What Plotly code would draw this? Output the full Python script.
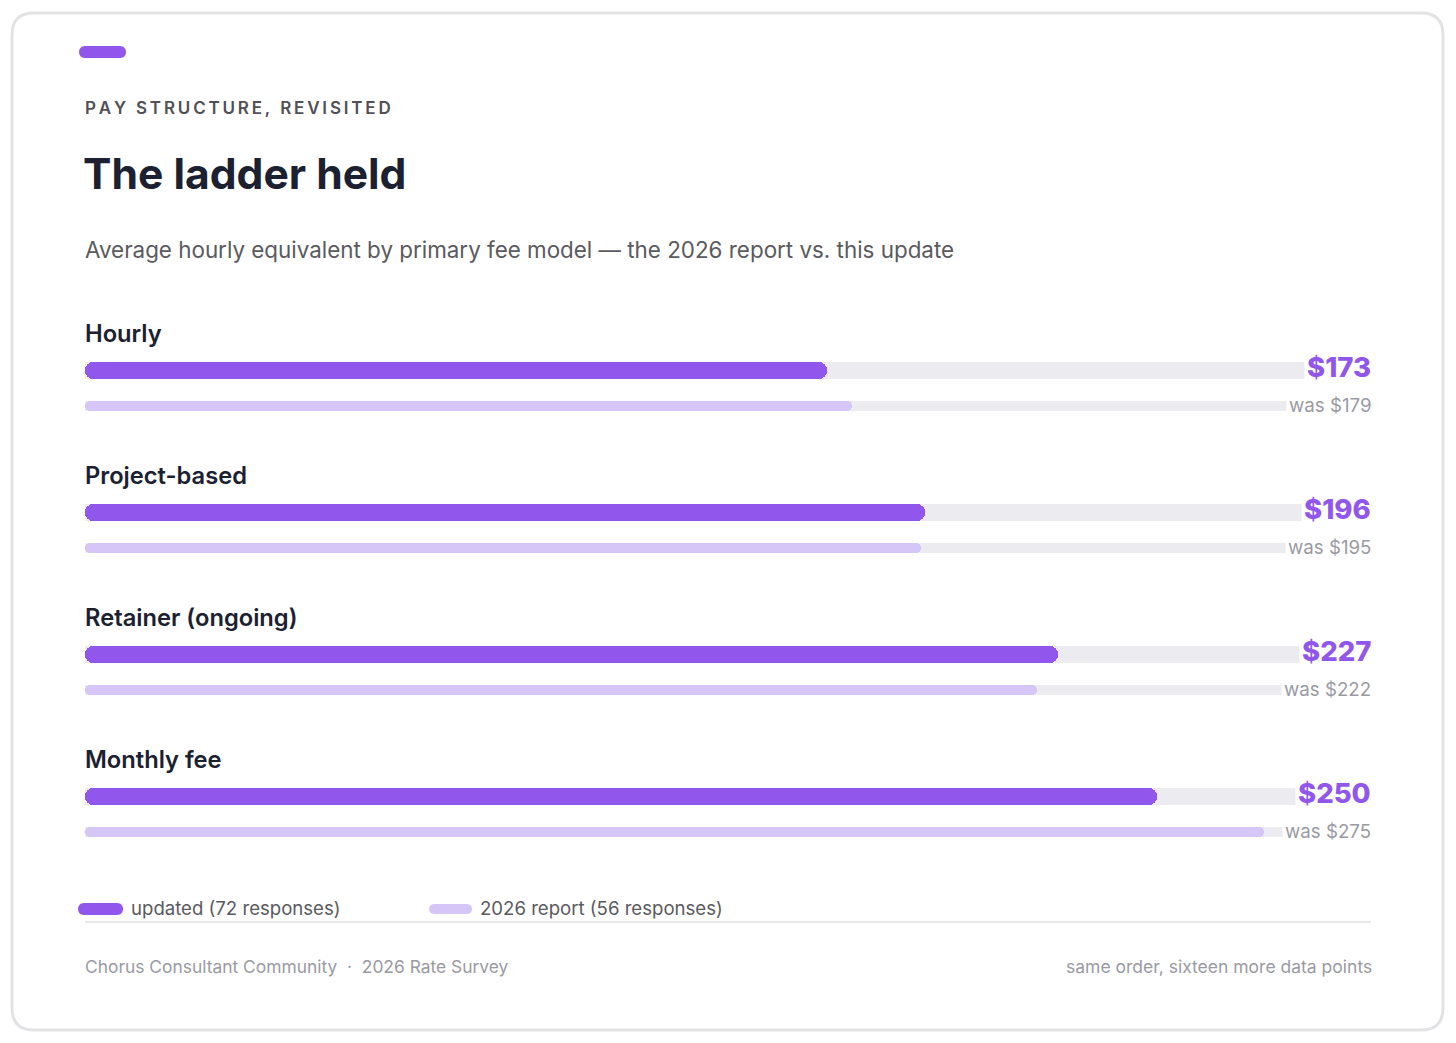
import plotly.graph_objects as go

# ---------------- data ----------------
categories = ["Hourly", "Project-based", "Retainer (ongoing)", "Monthly fee"]
updated = [173, 196, 227, 250]
report_2026 = [179, 195, 222, 275]
axis_max = 300
legend_labels = ["updated (72 responses)", "2026 report (56 responses)"]

eyebrow = "PAY STRUCTURE, REVISITED"
title = "The ladder held"
subtitle = "Average hourly equivalent by primary fee model \u2014 the 2026 report vs. this update"
footer_left = "Chorus Consultant Community  \u00b7  2026 Rate Survey"
footer_right = "same order, sixteen more data points"

# ---------------- style ----------------
OFF = 8                      # page body margin
W, H = 1456 - OFF, 1043 - OFF
PURPLE = "#9157ed"
LIGHT = "#d6c6f7"
TRACK = "#ececf0"
DARK = "#1b2130"
GREY = "#5a5a60"
LIGHTGREY = "#9a9aa2"
FONT = "Inter, Roboto, sans-serif"
TXT_PAD = 2                  # annotation inner padding compensation


def sx(v):  # screen x -> figure pixel
    return v - OFF


def sy(v):  # screen y -> figure pixel (y axis is in pixels)
    return v - OFF


def px(v):  # screen x -> paper fraction
    return sx(v) / W


X0, X1 = 85, 1371
GROUP_Y0 = 333
GROUP_STEP = 142
THICK_OFF = 37
THIN_OFF = 73
THICK_W = 17
THIN_W = 10

label_y = [sy(GROUP_Y0 + GROUP_STEP * i) for i in range(len(categories))]
thick_y = [y + THICK_OFF for y in label_y]
thin_y = [y + THIN_OFF for y in label_y]

fig = go.Figure()


def rounded_bar(values, ys, width, color):
    # right half (rounded at value end) + left half (rounded at zero end)
    fig.add_trace(go.Bar(
        x=[v * 0.55 for v in values], base=[v * 0.45 for v in values], y=ys,
        orientation="h", width=width, marker=dict(color=color, cornerradius="50%", line=dict(width=0)),
        hoverinfo="skip", showlegend=False))
    fig.add_trace(go.Bar(
        x=[-v * 0.55 for v in values], base=[v * 0.55 for v in values], y=ys,
        orientation="h", width=width, marker=dict(color=color, cornerradius="50%", line=dict(width=0)),
        hoverinfo="skip", showlegend=False))


# tracks
fig.add_trace(go.Bar(x=[axis_max] * len(categories), y=thick_y, orientation="h", width=THICK_W,
                     marker=dict(color=TRACK, line=dict(width=0)), hoverinfo="skip", showlegend=False))
fig.add_trace(go.Bar(x=[axis_max] * len(categories), y=thin_y, orientation="h", width=THIN_W,
                     marker=dict(color=TRACK, line=dict(width=0)), hoverinfo="skip", showlegend=False))

rounded_bar(updated, thick_y, THICK_W, PURPLE)
rounded_bar(report_2026, thin_y, THIN_W, LIGHT)

annotations = []
shapes = []


def pill(x0, x1, yc, h, color):
    yc = sy(yc)
    r = h / 2
    k = 4 / 3 * r
    path = (f"M {px(x0 + r)},{yc - r} L {px(x1 - r)},{yc - r} "
            f"C {px(x1 - r + k)},{yc - r} {px(x1 - r + k)},{yc + r} {px(x1 - r)},{yc + r} "
            f"L {px(x0 + r)},{yc + r} "
            f"C {px(x0 + r - k)},{yc + r} {px(x0 + r - k)},{yc - r} {px(x0 + r)},{yc - r} Z")
    return dict(type="path", xref="paper", yref="y", path=path, fillcolor=color,
                line=dict(width=0), layer="above")


# card
cr = 22
cx0, cx1, cy0, cy1 = 12, 1443, sy(13), sy(1030)
card_path = (f"M {px(cx0 + cr)},{cy0} L {px(cx1 - cr)},{cy0} Q {px(cx1)},{cy0} {px(cx1)},{cy0 + cr} "
             f"L {px(cx1)},{cy1 - cr} Q {px(cx1)},{cy1} {px(cx1 - cr)},{cy1} "
             f"L {px(cx0 + cr)},{cy1} Q {px(cx0)},{cy1} {px(cx0)},{cy1 - cr} "
             f"L {px(cx0)},{cy0 + cr} Q {px(cx0)},{cy0} {px(cx0 + cr)},{cy0} Z")
shapes.append(dict(type="path", xref="paper", yref="y", path=card_path, fillcolor="white",
                   line=dict(color="#e3e3e6", width=3), layer="below"))

# accent pill
shapes.append(pill(79, 126, 52, 12, PURPLE))

# separator line
shapes.append(dict(type="line", xref="paper", yref="y", x0=px(X0), x1=px(X1), y0=sy(922), y1=sy(922),
                   line=dict(color="#e2e2e6", width=1.5), layer="above"))

# legend pills
shapes.append(pill(78, 123, 909, 12, PURPLE))
shapes.append(pill(429, 472, 909, 10, LIGHT))

spaced_eyebrow = "\u2009".join(list(eyebrow))


def ann(text, x, y, size, color, anchor="left", weight=None):
    f = dict(family=FONT, size=size, color=color)
    if weight:
        f["weight"] = weight
    shift = -TXT_PAD if anchor == "left" else TXT_PAD + 1
    return dict(text=text, x=px(x), y=sy(y), xref="paper", yref="y", xanchor=anchor, yanchor="middle",
                xshift=shift, showarrow=False, font=f)


annotations += [
    ann(spaced_eyebrow, X0, 108, 17, "#505056", weight=600),
    ann(f"<b>{title}</b>", X0 - 2, 173, 42.6, DARK),
    ann(subtitle, X0, 249, 22.4, GREY),
    ann(legend_labels[0], 131, 908, 18.6, GREY),
    ann(legend_labels[1], 480, 908, 18.6, GREY),
    ann(footer_left, X0, 966, 17.4, LIGHTGREY),
    ann(footer_right, X1, 966, 17.5, LIGHTGREY, anchor="right"),
]

for i, cat in enumerate(categories):
    annotations.append(dict(text=cat, x=px(X0), y=label_y[i], xref="paper", yref="y", xanchor="left",
                            yanchor="middle", xshift=-TXT_PAD, showarrow=False,
                            font=dict(family=FONT, size=23.7, color=DARK, weight=600)))
    annotations.append(dict(text=f"${updated[i]}", x=axis_max, y=thick_y[i] - 3, xref="x", yref="y",
                            xanchor="right", yanchor="middle", xshift=3, showarrow=False,
                            bgcolor="white", borderpad=2,
                            font=dict(family=FONT, size=27.5, color=PURPLE, weight=800)))
    annotations.append(dict(text=f"was ${report_2026[i]}", x=axis_max, y=thin_y[i] - 1, xref="x", yref="y",
                            xanchor="right", yanchor="middle", xshift=3, showarrow=False,
                            bgcolor="white", borderpad=2,
                            font=dict(family=FONT, size=18.7, color=LIGHTGREY)))

fig.update_layout(
    width=W, height=H,
    margin=dict(l=0, r=0, t=0, b=0),
    paper_bgcolor="white", plot_bgcolor="rgba(0,0,0,0)",
    barmode="overlay", bargap=0,
    xaxis=dict(domain=[px(X0), px(X1)], range=[0, axis_max], visible=False, fixedrange=True),
    yaxis=dict(domain=[0, 1], range=[H, 0], visible=False, fixedrange=True),
    shapes=shapes, annotations=annotations, showlegend=False,
)

fig.write_html("out.html")
